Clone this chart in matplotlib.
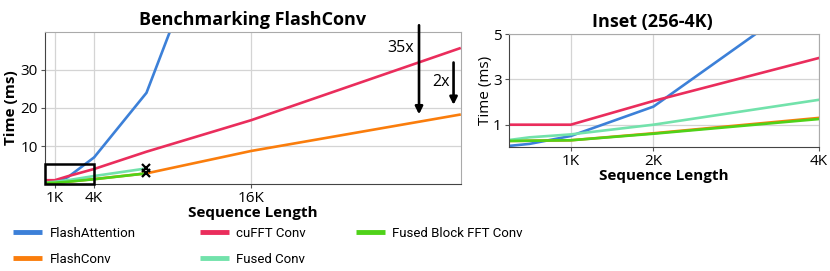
import matplotlib
matplotlib.use("Agg")
import matplotlib.pyplot as plt
from matplotlib import font_manager
from matplotlib.patches import Rectangle

plt.rcParams['font.family'] = ['Open Sans', 'DejaVu Sans']

# Sequence lengths and timings (ms)
seq_len = [256, 512, 1024, 2048, 4096, 8192, 16384, 32768]
flash_attention = [0.06, 0.15, 0.5, 1.8, 7.0, 24.0, 96.0]
cufft_conv = [1.0, 1.0, 1.0, 2.05, 3.95, 8.5, 16.8, 35.8]
fused_conv = [0.32, 0.44, 0.57, 1.0, 2.1, 4.1]
fused_block_fft = [0.28, 0.29, 0.31, 0.6, 1.25, 2.8]
flashconv = [0.28, 0.29, 0.31, 0.62, 1.3, 2.8, 8.7, 18.3]

series = [
    ("FlashAttention", flash_attention, "#3c80d8"),
    ("FlashConv", flashconv, "#fa7d0c"),
    ("cuFFT Conv", cufft_conv, "#ea2d5c"),
    ("Fused Conv", fused_conv, "#72e2ab"),
    ("Fused Block FFT Conv", fused_block_fft, "#4fd219"),
]
draw_order = ["FlashAttention", "cuFFT Conv", "FlashConv", "Fused Conv", "Fused Block FFT Conv"]

# the legend in the original uses a narrow face, Roboto is the closest here
legend_font = font_manager.FontProperties(family=['Roboto', 'DejaVu Sans'], size=9.5)

fig = plt.figure(figsize=(8.3, 2.71), dpi=100)
ax = fig.add_axes([0.0542, 0.321, 0.501, 0.561])
ax2 = fig.add_axes([0.613, 0.4565, 0.3735, 0.417])

handles = {}
lookup = {name: (vals, col) for name, vals, col in series}
for a in (ax, ax2):
    for name in draw_order:
        vals, col = lookup[name]
        ln, = a.plot(seq_len[:len(vals)], vals, color=col, lw=1.9, label=name,
                     solid_capstyle='butt')
        if a is ax:
            handles[name] = ln

# OOM markers for the fused kernels
ax.plot(seq_len[len(fused_conv) - 1], fused_conv[-1], marker='x', color='black',
        ms=5.5, mew=1.6, zorder=5)
ax.plot(seq_len[len(fused_block_fft) - 1], fused_block_fft[-1], marker='x',
        color='black', ms=5.5, mew=1.6, zorder=5)

# zoomed region box
ax.add_patch(Rectangle((256, 0), 4096 - 256, 5.2, fill=False, ec='black', lw=1.8,
                       zorder=6, clip_on=False))

# speedup arrows
ax.annotate("", xy=(29500, 17.6), xytext=(29500, 42.5),
            arrowprops=dict(arrowstyle='-|>', color='black', lw=1.9, mutation_scale=11),
            annotation_clip=False)
ax.text(29100, 35.9, "35x", ha='right', va='center', fontsize=11.5)
ax.annotate("", xy=(32200, 20.1), xytext=(32200, 32.7),
            arrowprops=dict(arrowstyle='-|>', color='black', lw=1.9, mutation_scale=11))
ax.text(31900, 26.9, "2x", ha='right', va='center', fontsize=11.5)

ax.set_xlim(256, 32768)
ax.set_ylim(0, 40)
ax.set_xticks([1024, 4096, 16384])
ax.set_xticklabels(["1K", "4K", "16K"])
ax.set_yticks([10, 20, 30])
ax.set_title("Benchmarking FlashConv", fontsize=13, fontweight='bold', pad=5)
ax.set_xlabel("Sequence Length", fontsize=11, fontweight='bold', labelpad=0)
ax.set_ylabel("Time (ms)", fontsize=11, fontweight='bold', labelpad=2)

ax2.set_xlim(256, 4096)
ax2.set_ylim(0, 5)
ax2.set_xticks([1024, 2048, 4096])
ax2.set_xticklabels(["1K", "2K", "4K"])
ax2.set_yticks([1, 3, 5])
ax2.set_title("Inset (256-4K)", fontsize=13, fontweight='bold', pad=5, x=0.462)
ax2.set_xlabel("Sequence Length", fontsize=11, fontweight='bold', labelpad=0)
ax2.set_ylabel("Time (ms)", fontsize=11, labelpad=0)

for a in (ax, ax2):
    a.grid(True, color='#d4d4d4', lw=0.9)
    a.set_axisbelow(True)
    a.tick_params(labelsize=11, length=3, width=0.8, color='#555555', pad=2)
    a.spines['left'].set_color('#444444')
    a.spines['bottom'].set_color('#444444')
    a.spines['top'].set_color('#aaaaaa')
    a.spines['right'].set_color('#aaaaaa')

# legend in three hand-placed columns
columns = [
    (0.016, ["FlashAttention", "FlashConv"]),
    (0.241, ["cuFFT Conv", "Fused Conv"]),
    (0.429, ["Fused Block FFT Conv"]),
]
for x0, names in columns:
    leg = fig.legend([handles[n] for n in names], names, loc='upper left',
                     bbox_to_anchor=(x0, 0.162), frameon=False,
                     handlelength=2.2, handletextpad=0.55, labelspacing=0.95,
                     borderaxespad=0, borderpad=0, prop=legend_font)
    for l in leg.get_lines():
        l.set_linewidth(3.5)

fig.savefig("out.png", dpi=100)
